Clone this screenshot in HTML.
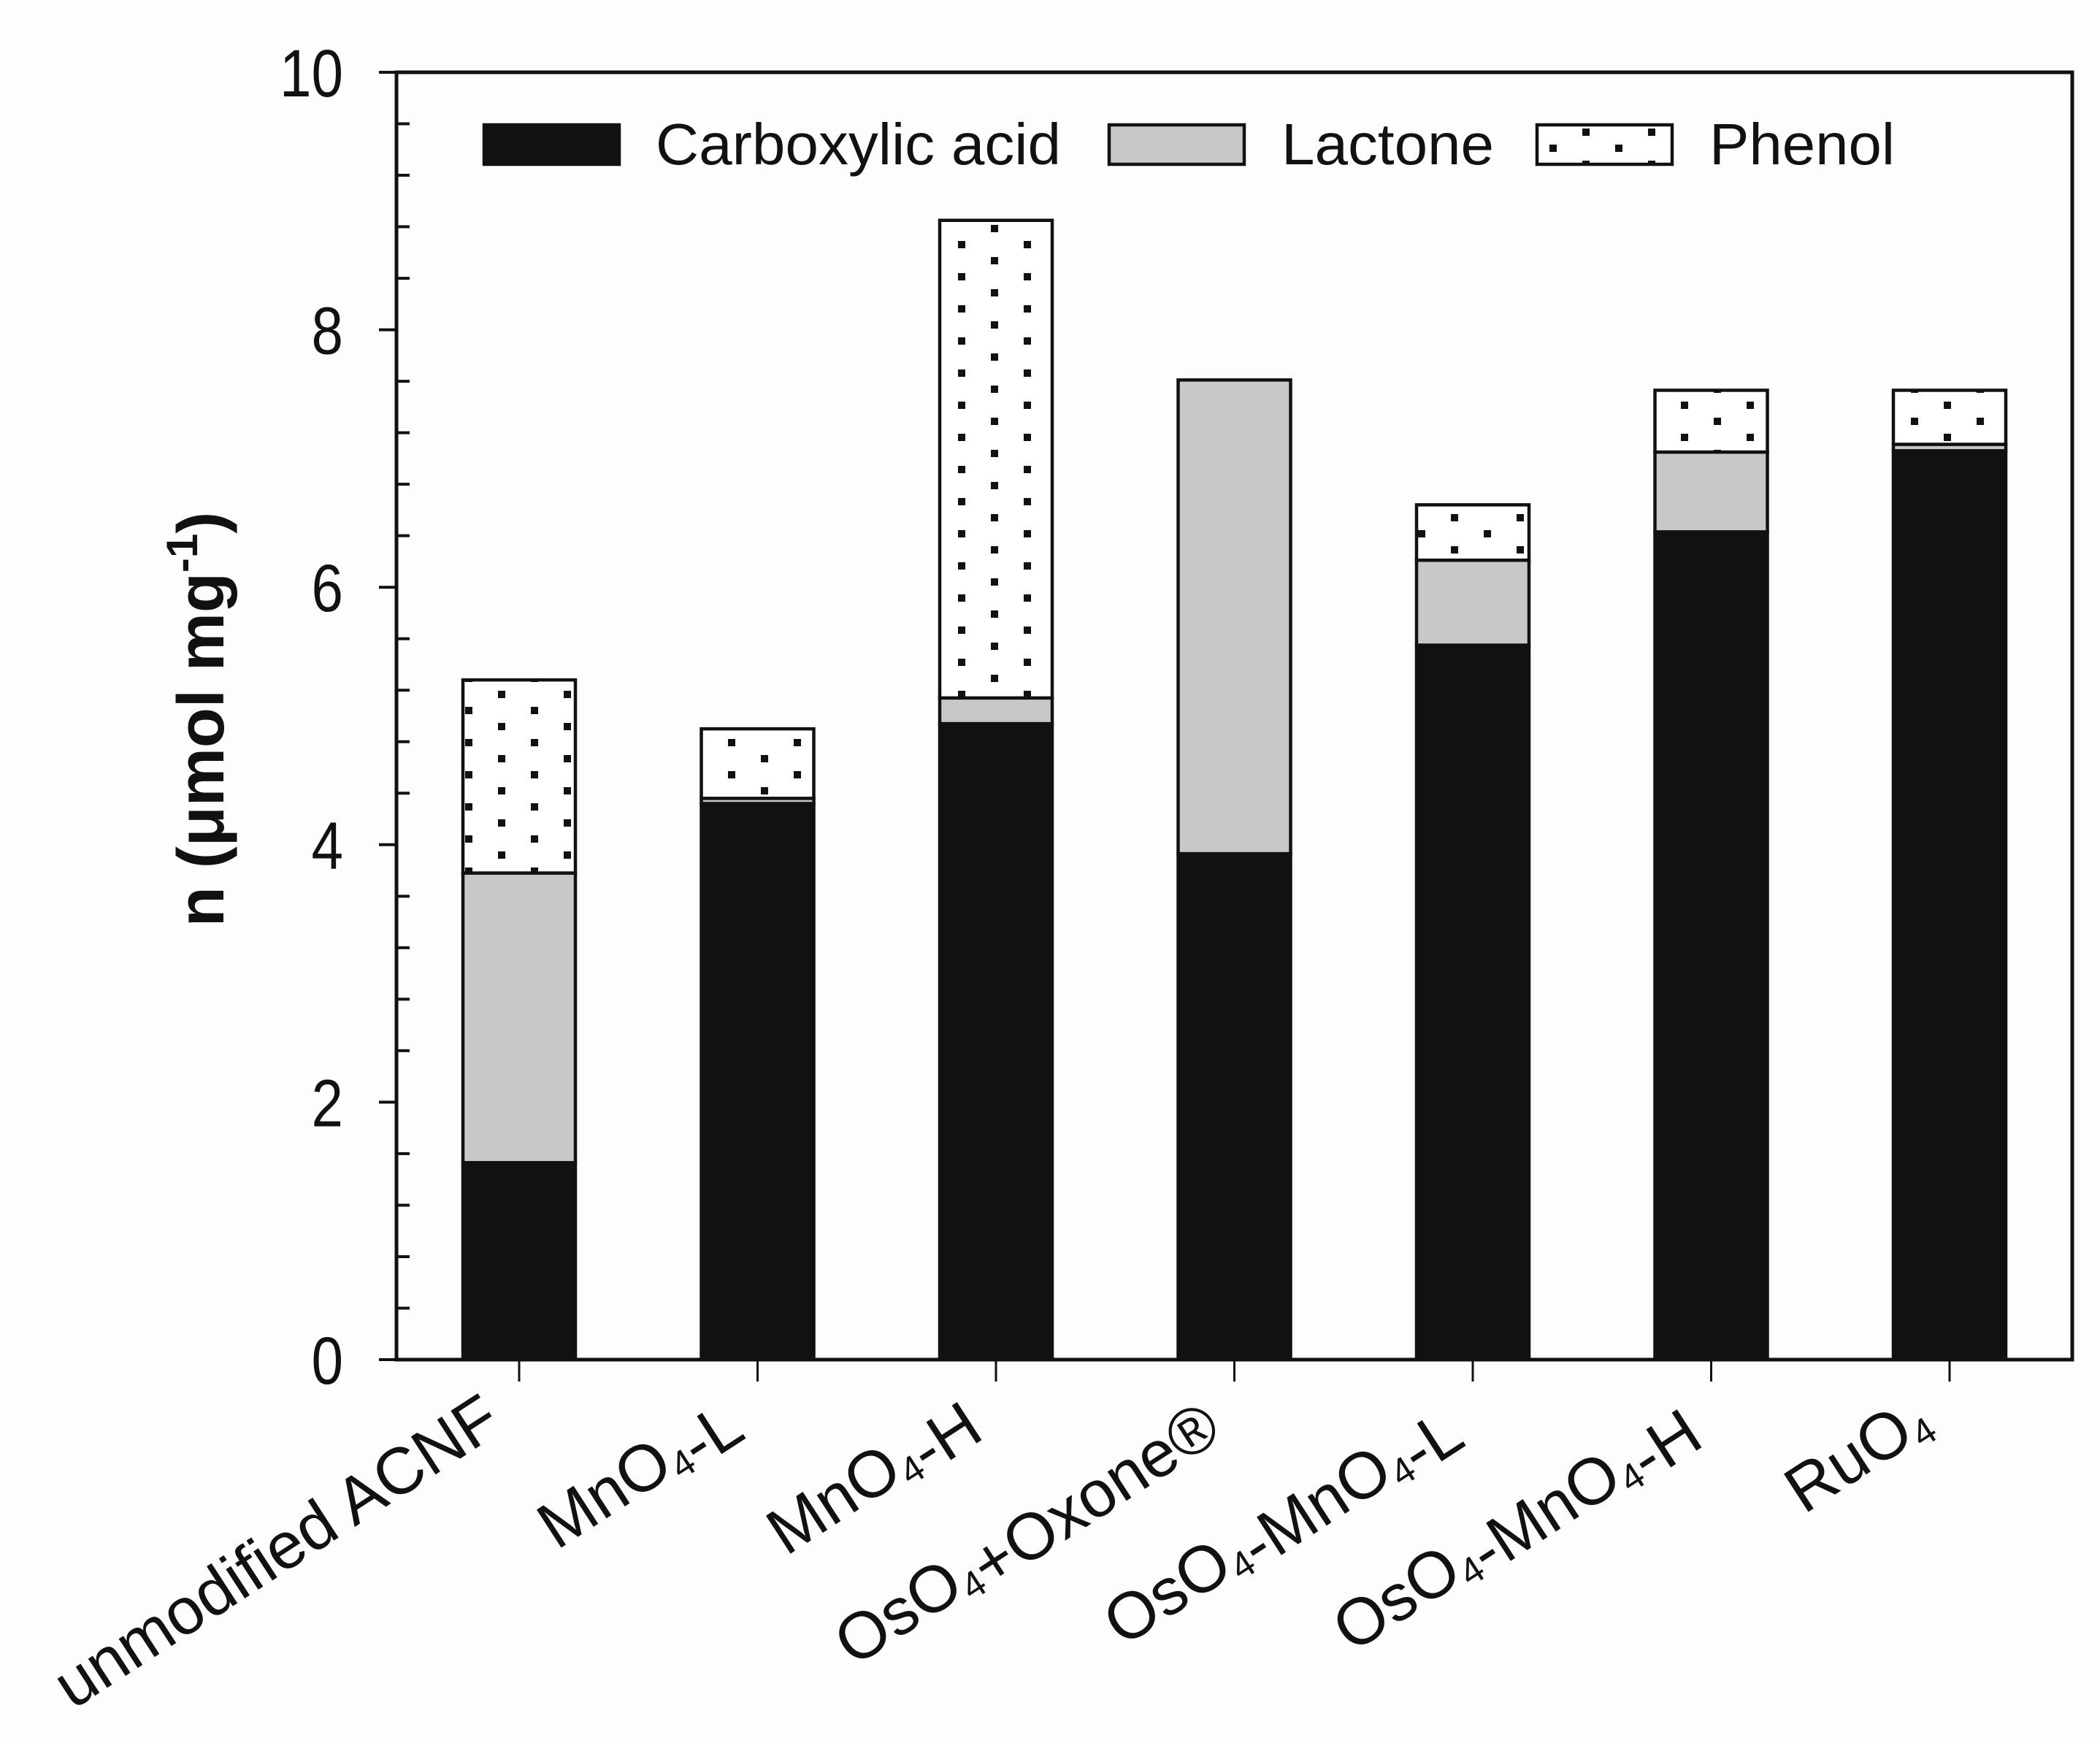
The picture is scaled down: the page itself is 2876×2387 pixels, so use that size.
<!DOCTYPE html>
<html><head><meta charset="utf-8"><style>
html,body{margin:0;padding:0;background:#fefdfb;}
svg{display:block;font-family:"Liberation Sans",Arial,sans-serif;}
</style></head><body>
<svg id="chart" width="2876" height="2387" viewBox="0 0 2876 2387" xmlns="http://www.w3.org/2000/svg">
<defs>
<pattern id="dots" patternUnits="userSpaceOnUse" width="90" height="88" x="637" y="0">
<rect width="90" height="88" fill="#fff"/>
<rect x="0" y="0" width="10" height="10" fill="#111"/>
<rect x="45" y="22" width="10" height="10" fill="#111"/>
<rect x="0" y="44" width="10" height="10" fill="#111"/>
<rect x="45" y="66" width="10" height="10" fill="#111"/>
</pattern>
</defs>
<g id="plot"></g>
</svg>
<script>
const categories = ["unmodified ACNF","MnO4-L","MnO4-H","OsO4+Oxone®","OsO4-MnO4-L","OsO4-MnO4-H","RuO4"];
const carboxylic = [1.53, 4.32, 4.94, 3.93, 5.55, 6.43, 7.06];
const lactone = [2.25, 0.04, 0.20, 3.68, 0.66, 0.62, 0.05];
const phenol = [1.50, 0.54, 3.71, 0.00, 0.43, 0.48, 0.42];
const yTicks = [0, 2, 4, 6, 8, 10];
const seriesNames = ["Carboxylic acid","Lactone","Phenol"];

const NS = "http://www.w3.org/2000/svg";
const L = 543, R = 2838, T = 99, B = 1862;
const yMax = 10;
function y(v){ return B - (v / yMax) * (B - T); }
const band = 326.5, firstC = 711, barW = 154;
function xc(i){ return firstC + i * band; }
const g = document.getElementById('plot');
function mk(tag, attrs, parent){
  const e = document.createElementNS(NS, tag);
  for (const k in attrs) e.setAttribute(k, attrs[k]);
  (parent || g).appendChild(e);
  return e;
}

const fills = ["#111111", "#c8c8c8", "url(#dots)"];
const series = [carboxylic, lactone, phenol];
categories.forEach((c, i) => {
  let base = 0;
  series.forEach((s, k) => {
    const v = s[i];
    if (v <= 0) return;
    const r = mk('rect', {x: xc(i) - barW/2, y: y(base + v), width: barW, height: y(base) - y(base + v), fill: fills[k], stroke: "#111", 'stroke-width': 4.5});
    
    
    base += v;
  });
});

const frame = mk('rect', {x: L, y: T, width: R - L, height: B - T, fill: "none", stroke: "#111", 'stroke-width': 5});



for (let m = 0; m <= 25; m++) {
  const v = m * 0.4;
  if (Math.abs(v / 2 - Math.round(v / 2)) < 1e-6) continue;
  const t = mk('line', {x1: L, x2: L + 18, y1: y(v), y2: y(v), stroke: "#111", 'stroke-width': 4});
  
  
}
yTicks.forEach(v => {
  const t = mk('line', {x1: L - 24, x2: L, y1: y(v), y2: y(v), stroke: "#111", 'stroke-width': 4});
  
  
  const lb = mk('text', {x: 0, y: 0, 'font-size': 92, 'text-anchor': 'end', fill: "#111", transform: `translate(470 ${y(v) + 33}) scale(0.85 1)`});
  lb.textContent = String(v);
  
  
});

function addLabel(i, name) {
  const cx = xc(i);
  const t = mk('line', {x1: cx, x2: cx, y1: B, y2: B + 30, stroke: "#111", 'stroke-width': 3});
  
  
  const ex = cx - 20, ey = 1958;
  const tx = mk('text', {x: ex, y: ey, 'font-size': 90, 'text-anchor': 'end', fill: "#111", transform: `rotate(-33 ${ex} ${ey})`});
  
  
  const parts = name.split(/(4)/);
  parts.forEach(p => {
    if (p === "") return;
    const ts = document.createElementNS(NS, 'tspan');
    if (p === "4") { ts.setAttribute('font-size', '52'); ts.setAttribute('dy', '12'); ts.textContent = "4"; tx.appendChild(ts);
      const back = document.createElementNS(NS, 'tspan'); back.setAttribute('dy', '-12'); back.textContent = ""; tx.appendChild(back); }
    else { ts.textContent = p; tx.appendChild(ts); }
  });
}
categories.forEach((c, i) => addLabel(i, c));

const legX = [663, 1519, 2105], legTX = [898, 1755, 2341], legLen = [555, 291, 254];
seriesNames.forEach((n, k) => {
  const b = mk('rect', {x: legX[k], y: 171, width: 185, height: 54, fill: fills[k], stroke: "#111", 'stroke-width': 4.5});
  
  
  const t = mk('text', {x: legTX[k], y: 225, 'font-size': 80, fill: "#111", textLength: legLen[k], lengthAdjust: "spacingAndGlyphs"});
  t.textContent = n;
  
  
});

const yt = mk('text', {x: 0, y: 0, 'font-size': 90, 'font-weight': 'bold', 'text-anchor': 'middle', fill: "#111", transform: "translate(306 985) rotate(-90)"});


yt.innerHTML = 'n (μmol mg<tspan font-size="60" dy="-36">-1</tspan><tspan dy="36">)</tspan>';
</script>
</body></html>
